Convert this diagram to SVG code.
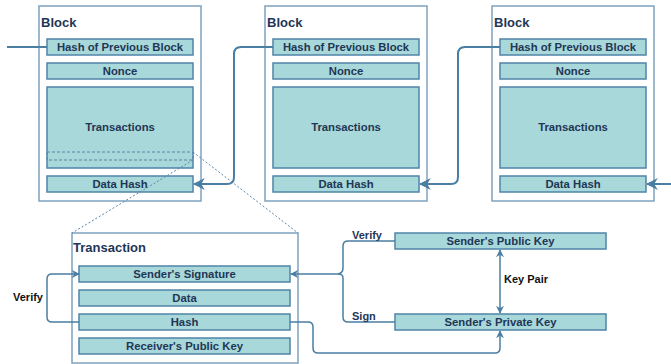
<svg xmlns="http://www.w3.org/2000/svg" width="671" height="364" viewBox="0 0 671 364">
<defs>
<style>
.outer{fill:#ffffff;stroke:#7fa3bf;stroke-width:1.5}
.box{fill:#a8d8d9;stroke:#4f84a8;stroke-width:1.5}
.t{font-family:"Liberation Sans",Arial,sans-serif;font-weight:bold;font-size:11.3px;fill:#1f3656;text-anchor:middle}
.title{font-family:"Liberation Sans",Arial,sans-serif;font-weight:bold;font-size:13px;fill:#1f3656}
.lbl{font-family:"Liberation Sans",Arial,sans-serif;font-weight:bold;font-size:11px;fill:#1f3656}
.blk{font-family:"Liberation Sans",Arial,sans-serif;font-weight:bold;font-size:11px;fill:#111111}
.c{fill:none;stroke:#4a7ea2;stroke-width:2}
.c2{fill:none;stroke:#4a7ea2;stroke-width:1.5}
.dash{fill:none;stroke:#5a86a8;stroke-width:1;stroke-dasharray:3 2}
.dot{fill:none;stroke:#5a86a8;stroke-width:1;stroke-dasharray:2 2}
</style>
<marker id="ar" viewBox="0 0 10 10" refX="9" refY="5" markerWidth="8" markerHeight="8" orient="auto-start-reverse" markerUnits="userSpaceOnUse">
<path d="M0,0 L10,5 L0,10 L3,5 z" fill="#4a7ea2"/>
</marker>
<marker id="ar2" viewBox="0 0 10 10" refX="9" refY="5" markerWidth="12" markerHeight="12" orient="auto-start-reverse" markerUnits="userSpaceOnUse">
<path d="M0,0 L10,5 L0,10 L3,5 z" fill="#4a7ea2"/>
</marker>
</defs>

<g id="block1">
<rect class="outer" x="39" y="6" width="162" height="195"/>
<text class="title" x="41" y="27">Block</text>
<rect class="box" x="47" y="39" width="146" height="16"/>
<text class="t" x="120" y="51">Hash of Previous Block</text>
<rect class="box" x="47" y="63" width="146" height="16"/>
<text class="t" x="120" y="75">Nonce</text>
<rect class="box" x="47" y="87" width="146" height="81"/>
<text class="t" x="120" y="131">Transactions</text>
<rect class="dash" x="47" y="152" width="146" height="8"/>
<rect class="box" x="47" y="176" width="146" height="16"/>
<text class="t" x="120" y="188">Data Hash</text>
</g>

<g id="block2">
<rect class="outer" x="265" y="6" width="162" height="195"/>
<text class="title" x="267" y="27">Block</text>
<rect class="box" x="273" y="39" width="146" height="16"/>
<text class="t" x="346" y="51">Hash of Previous Block</text>
<rect class="box" x="273" y="63" width="146" height="16"/>
<text class="t" x="346" y="75">Nonce</text>
<rect class="box" x="273" y="87" width="146" height="81"/>
<text class="t" x="346" y="131">Transactions</text>
<rect class="box" x="273" y="176" width="146" height="16"/>
<text class="t" x="346" y="188">Data Hash</text>
</g>

<g id="block3">
<rect class="outer" x="492" y="6" width="162" height="195"/>
<text class="title" x="494" y="27">Block</text>
<rect class="box" x="500" y="39" width="146" height="16"/>
<text class="t" x="573" y="51">Hash of Previous Block</text>
<rect class="box" x="500" y="63" width="146" height="16"/>
<text class="t" x="573" y="75">Nonce</text>
<rect class="box" x="500" y="87" width="146" height="81"/>
<text class="t" x="573" y="131">Transactions</text>
<rect class="box" x="500" y="176" width="146" height="16"/>
<text class="t" x="573" y="188">Data Hash</text>
</g>

<g id="transaction">
<rect class="outer" x="72" y="233" width="226" height="130"/>
<text class="title" x="73" y="252">Transaction</text>
<rect class="box" x="79" y="266" width="211" height="16"/>
<text class="t" x="184.5" y="278">Sender's Signature</text>
<rect class="box" x="79" y="290" width="211" height="16"/>
<text class="t" x="184.5" y="302">Data</text>
<rect class="box" x="79" y="314" width="211" height="16"/>
<text class="t" x="184.5" y="326">Hash</text>
<rect class="box" x="79" y="338" width="211" height="16"/>
<text class="t" x="184.5" y="350">Receiver's Public Key</text>
</g>

<g id="pubkey">
<rect class="box" x="395" y="233" width="211" height="16"/>
<text class="t" x="500.5" y="245">Sender's Public Key</text>
</g>

<g id="privkey">
<rect class="box" x="395" y="314" width="211" height="16"/>
<text class="t" x="500.5" y="326">Sender's Private Key</text>
</g>

<g id="connectors">
<path class="c" d="M7,47 H47"/>
<path class="c" d="M273,47 H241 Q234,47 234,54 V177 Q234,184 227,184 H194" marker-end="url(#ar2)"/>
<path class="c" d="M500,47 H465 Q458,47 458,54 V177 Q458,184 451,184 H420" marker-end="url(#ar2)"/>
<path class="c" d="M671,184 H647" marker-end="url(#ar2)"/>
<path class="dot" d="M193,160 L72,233"/>
<path class="dot" d="M193,152 L298,233"/>
<path class="c2" d="M79,322 H52 Q47,322 47,317 V279 Q47,274 52,274 H79" marker-end="url(#ar)"/>
<path class="c2" d="M395,241 H348 Q343,241 343,246 V268 Q343,273 338,274 H291" marker-end="url(#ar)"/>
<path class="c2" d="M395,322 H348 Q343,322 343,317 V278 Q343,274 338,274"/>
<path class="c2" d="M500,250 V313" marker-start="url(#ar)" marker-end="url(#ar)"/>
<path class="c2" d="M290,322 H308 Q313,322 313,327 V348 Q313,353 318,353 H495 Q500,353 500,348 V331" marker-end="url(#ar)"/>
<text class="blk" x="13" y="301">Verify</text>
<text class="blk" x="504" y="283">Key Pair</text>
<text class="lbl" x="352" y="239">Verify</text>
<text class="lbl" x="352" y="320">Sign</text>
</g>
</svg>
